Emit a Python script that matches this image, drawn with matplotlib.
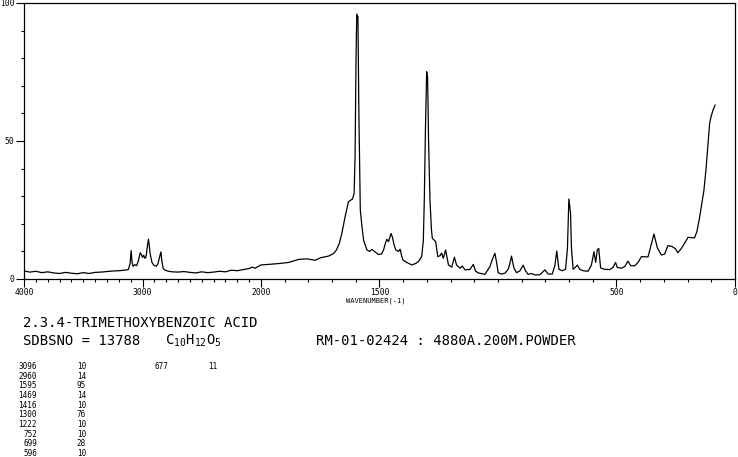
import matplotlib.pyplot as plt
import numpy as np
from matplotlib.ticker import FixedLocator, MultipleLocator, NullFormatter

# Raman spectrum (wavenumber / relative intensity)
wavenumber = [
    4000, 3950, 3900, 3850, 3800, 3750, 3700, 3650, 3600, 3550, 3500, 3450,
    3400, 3350, 3300, 3250, 3200, 3150, 3120, 3105, 3096, 3088, 3080, 3065,
    3050, 3035, 3020, 3011, 3000, 2990, 2980, 2970, 2960, 2950, 2944, 2935,
    2920, 2905, 2885, 2870, 2855, 2845, 2835, 2825, 2810, 2780, 2750, 2700,
    2650, 2600, 2550, 2500, 2450, 2400, 2350, 2300, 2250, 2200, 2150, 2100,
    2075, 2050, 2020, 2000,
    1967, 1925, 1883, 1841, 1807, 1771, 1749, 1715, 1694, 1682, 1669, 1659,
    1645, 1631, 1614, 1607, 1603, 1599, 1596, 1591, 1587, 1581, 1574, 1567,
    1553, 1542, 1532, 1521, 1513, 1504, 1492, 1483, 1475, 1469, 1462, 1455,
    1451, 1445, 1439, 1431, 1420, 1413, 1407, 1401, 1385, 1364, 1348, 1336,
    1322, 1315, 1311, 1306, 1301, 1297, 1293, 1287, 1281, 1277, 1268, 1263,
    1254, 1244, 1238, 1231, 1221, 1209, 1195, 1184, 1175, 1160, 1151, 1139,
    1118, 1104, 1095, 1083, 1055, 1034, 1022, 1013, 1006, 999, 985, 971,
    957, 949, 943, 933, 922, 908, 894, 884, 873, 859, 845, 824,
    802, 788, 771, 760, 752, 743, 729, 715, 707, 701, 694, 690,
    683, 665, 655, 641, 620, 606, 595, 588, 581, 575, 567, 550,
    529, 515, 504, 497, 480, 465, 452, 440, 423, 409, 395, 367,
    356, 342, 328, 311, 297, 283, 266, 252, 241, 227, 213, 198,
    182, 171, 161, 150, 140, 131, 122, 115, 107, 101, 94, 84,
]
intensity = [
    2.9, 2.5, 2.8, 2.3, 2.6, 2.2, 2.0, 2.4, 2.1, 1.9, 2.3, 2.0,
    2.4, 2.5, 2.7, 2.9, 3.0, 3.2, 3.4, 5.5, 10.3, 6.0, 4.6, 5.2,
    4.8, 6.5, 9.5, 9.0, 7.8, 8.6, 7.5, 8.0, 11.5, 14.4, 12.5, 9.0,
    6.0, 5.0, 4.6, 5.5, 8.0, 9.8, 6.0, 3.8, 3.2, 2.8, 2.6, 2.5,
    2.7, 2.4, 2.2, 2.6, 2.3, 2.5, 2.8, 2.6, 3.2, 3.0, 3.4, 3.8,
    4.3, 3.9, 4.6, 5.1,
    5.3, 5.6, 6.0, 7.1, 7.3, 6.8, 7.7, 8.3, 9.2, 10.5, 13.0, 16.5,
    22.6, 28.0, 29.0, 31.0, 45.0, 80.0, 96.0, 95.0, 60.0, 25.0, 19.0, 14.0,
    10.5, 10.0, 10.7, 10.0, 9.4, 8.9, 9.0, 10.5, 13.0, 14.4, 13.5, 15.5,
    16.5, 15.0, 12.5, 10.5, 10.0, 10.8, 8.5, 6.9, 6.0, 5.1, 5.6, 6.3,
    8.1, 14.0, 28.6, 55.0, 75.1, 73.0, 50.0, 28.6, 18.0, 14.7, 14.0, 13.5,
    8.1, 8.5, 9.4, 7.5, 10.5, 5.1, 4.3, 7.9, 5.1, 3.9, 4.7, 3.3,
    3.5, 5.3, 2.9, 2.2, 1.7, 4.5, 7.5, 9.3, 6.0, 2.2, 1.8, 2.1,
    3.5, 6.0, 8.3, 4.0, 2.3, 2.9, 5.0, 3.0, 1.7, 2.0, 1.5, 1.5,
    3.3, 1.8, 1.8, 4.9, 10.1, 3.5, 3.0, 3.5, 11.0, 29.0, 24.0, 11.0,
    3.5, 5.0, 3.5, 3.0, 2.8, 5.0, 9.9, 6.0, 10.5, 11.1, 4.0, 3.5,
    3.4, 4.2, 6.0, 4.2, 3.9, 4.5, 6.5, 4.8, 4.8, 6.0, 8.1, 8.0,
    11.7, 16.3, 11.4, 8.7, 9.0, 12.1, 11.8, 11.0, 9.5, 11.0, 12.9, 15.1,
    15.0, 14.9, 17.1, 22.0, 27.4, 32.2, 40.1, 47.9, 56.4, 58.8, 60.9, 63.0,
]

x_major = [4000, 3000, 2000, 1500, 500, 0]
x_major_labels = ['4000', '3000', '2000', '1500', '500', '0']
y_major = [0, 50, 100]

title = '2.3.4-TRIMETHOXYBENZOIC ACID'
sdbs_no = 'SDBSNO = 13788'
formula = r'$\mathregular{C_{10}H_{12}O_{5}}$'
conditions = 'RM-01-02424 : 4880A.200M.POWDER'

peak_pos = ['3096', '2960', '1595', '1469', '1416', '1300', '1222',
            '752', '699', '596', '677']
peak_int = ['10', '14', '95', '14', '10', '76', '10', '10', '28', '10', '11']

W, H = 738, 457
MONO = 'DejaVu Sans Mono'


def _fwd(w):
    # wavenumbers above 2000 are drawn at half the scale
    w = np.asarray(w, dtype=float)
    return np.where(w > 2000, 2000 + (w - 2000) / 2, w)


def _inv(u):
    u = np.asarray(u, dtype=float)
    return np.where(u > 2000, 2000 + (u - 2000) * 2, u)


def fx(px):
    return px / W


def fy(py):
    return 1 - py / H


fig = plt.figure(figsize=(W / 100, H / 100), dpi=100)
ax = fig.add_axes([fx(24), fy(279), (735 - 24) / W, (279 - 3) / H])

ax.plot(wavenumber, intensity, color='black', lw=0.9)

ax.set_xscale('function', functions=(_fwd, _inv))
ax.set_xlim(4000, 0)
ax.set_ylim(0, 100)

ax.xaxis.set_major_locator(FixedLocator(x_major))
ax.set_xticklabels(x_major_labels)
ax.xaxis.set_minor_locator(FixedLocator(np.arange(0, 4001, 100)))
ax.xaxis.set_minor_formatter(NullFormatter())
ax.yaxis.set_major_locator(FixedLocator(y_major))
ax.yaxis.set_minor_locator(MultipleLocator(10))

ax.tick_params(which='major', direction='out', length=5.5, width=0.8,
               labelsize=5.8, pad=1.2, color='black')
ax.tick_params(which='minor', direction='out', length=2.2, width=0.8,
               color='black')
for lab in ax.get_xticklabels() + ax.get_yticklabels():
    lab.set_family(MONO)
for sp in ax.spines.values():
    sp.set_linewidth(0.9)

fig.text(fx(376), fy(301), 'WAVENUMBER(-1)', family=MONO, fontsize=5.0,
         ha='center', va='center')

fig.text(fx(23), fy(323), title, family=MONO, fontsize=10,
         ha='left', va='center')
fig.text(fx(23), fy(341), sdbs_no, family=MONO, fontsize=10,
         ha='left', va='center')
fig.text(fx(165), fy(341), formula, family=MONO, fontsize=10,
         ha='left', va='center')
fig.text(fx(316), fy(341), conditions, family=MONO, fontsize=10,
         ha='left', va='center')

# peak table: first ten rows in the left block, the rest to the right
for i, (pos, val) in enumerate(zip(peak_pos, peak_int)):
    col, row = divmod(i, 10)
    y = fy(366.5 + row * 9.65)
    x0 = 37 + col * 131
    fig.text(fx(x0), y, pos, family=MONO, fontsize=5.5, ha='right',
             va='center')
    fig.text(fx(x0 + 49), y, val, family=MONO, fontsize=5.5, ha='right',
             va='center')

fig.savefig('out.png', dpi=100)
